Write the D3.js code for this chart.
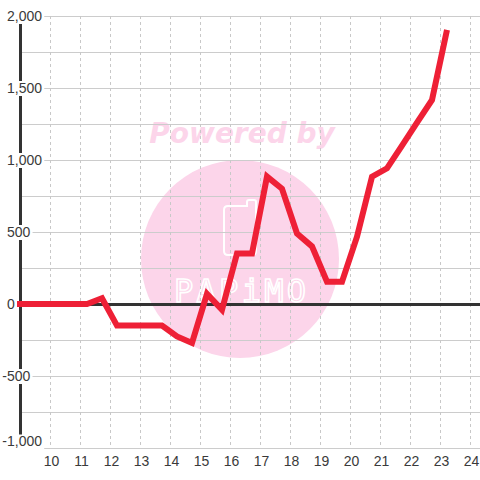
<!DOCTYPE html>
<html>
<head>
<meta charset="utf-8">
<script src="https://cdn.jsdelivr.net/npm/d3@7"></script>
<style>
  html, body { margin: 0; padding: 0; background: #fff; }
  svg { display: block; }
</style>
</head>
<body>
<svg id="chart" width="480" height="480"></svg>
<script>
// series
const weeks = [8.7, 9.2, 9.7, 10.2, 10.7, 11.2, 11.7, 12.2, 12.7, 13.2, 13.7, 14.2, 14.7,
               15.2, 15.7, 16.2, 16.7, 17.2, 17.7, 18.2, 18.7, 19.2, 19.7, 20.2, 20.7,
               21.2, 21.7, 22.2, 22.7, 23.2]
const values = [0, 0, 0, 0, 0, 0, 40, -150, -150, -150, -150, -225, -270,
                70, -40, 350, 350, 885, 800, 490, 400, 155, 155, 467, 884,
                942, 1100, 1260, 1417, 1903]
const xTicks = [10, 11, 12, 13, 14, 15, 16, 17, 18, 19, 20, 21, 22, 23, 24]
const yTicks = [-1000, -500, 0, 500, 1000, 1500, 2000]
const yGrid = d3.range(-1000, 2001, 250)

const svg = d3.select('#chart')
const width = +svg.attr('width')

const x = d3.scaleLinear().domain([10, 24]).range([51, 471])
const y = d3.scaleLinear().domain([-1000, 2000]).range([448, 16])

const fmt = d3.format(',')
const font = '"Liberation Sans", Arial, sans-serif'

// watermark sits under the grid
const wm = svg.append('g')
wm.append('circle')
    .attr('cx', 240).attr('cy', 259).attr('r', 99)
    .attr('fill', '#fcd5ea')
wm.append('text')
    .attr('x', 242).attr('y', 143)
    .attr('text-anchor', 'middle')
    .style('font-family', '"DejaVu Sans", sans-serif')
    .style('font-weight', 'bold')
    .style('font-style', 'italic')
    .style('font-size', '28px')
    .attr('fill', '#fcd5ea')
    .text('Powered by')
wm.append('path')
    .attr('d', 'M228,206 H247 V202 Q247,200 249,200 H254 Q256,200 256,202 V251 Q256,255 252,255 H228 Q224,255 224,251 V210 Q224,206 228,206 Z')
    .attr('fill', 'none')
    .attr('stroke', '#fff')
    .attr('stroke-width', 2)
wm.append('text')
    .attr('x', 174).attr('y', 302)
    .attr('textLength', 132)
    .attr('lengthAdjust', 'spacing')
    .style('font-family', '"DejaVu Sans Mono", monospace')
    .style('font-size', '32px')
    .attr('fill', 'none')
    .attr('stroke', '#fff')
    .attr('stroke-width', 1.6)
    .text('PAPiMO')

// grid
svg.append('g')
    .selectAll('line')
    .data(yGrid)
    .join('line')
    .attr('x1', 20).attr('x2', width)
    .attr('y1', d => y(d) + 0.5).attr('y2', d => y(d) + 0.5)
    .attr('stroke', '#cccccc')
    .attr('stroke-width', 1)

svg.append('g')
    .selectAll('line')
    .data(xTicks)
    .join('line')
    .attr('x1', d => Math.round(x(d)) - 0.5).attr('x2', d => Math.round(x(d)) - 0.5)
    .attr('y1', y(2000)).attr('y2', y(-1000))
    .attr('stroke', '#c8c8c8')
    .attr('stroke-dasharray', '3,3')
    .attr('stroke-width', 1)

// left axis line and zero line
svg.append('line')
    .attr('x1', 20.5).attr('x2', 20.5)
    .attr('y1', y(2000)).attr('y2', y(-1000))
    .attr('stroke', '#333')
    .attr('stroke-width', 3)

svg.append('line')
    .attr('x1', 20).attr('x2', width)
    .attr('y1', y(0) + 0.5).attr('y2', y(0) + 0.5)
    .attr('stroke', '#333')
    .attr('stroke-width', 3)

// y labels with white backing that cuts the axis and grid;
// the bottom one is nudged up to stay clear of the x labels
const yl = svg.append('g')
    .selectAll('g')
    .data(yTicks)
    .join('g')
    .attr('transform', d => `translate(0,${y(d) - (d === -1000 ? 6.5 : 0)})`)

yl.append('text')
    .attr('x', d => d < 0 ? 2.3 : 7)
    .attr('dy', '0.35em')
    .style('font-family', font)
    .style('font-size', '14px')
    .attr('fill', '#3a3a3a')
    .text(d => fmt(d).replace('−', '-'))

yl.each(function() {
    const g = d3.select(this)
    const bb = g.select('text').node().getBBox()
    g.insert('rect', 'text')
        .attr('x', 0).attr('y', -7)
        .attr('width', bb.x + bb.width + 2)
        .attr('height', d => d === -1000 ? 22 : 15)
        .attr('fill', '#fff')
})

// x axis labels
const xAxis = svg.append('g')
    .attr('transform', `translate(0,${y(-1000)})`)
    .call(d3.axisBottom(x).tickValues(xTicks).tickSize(0).tickPadding(8).tickFormat(d3.format('d')))
xAxis.select('.domain').remove()
xAxis.selectAll('text')
    .style('font-family', font)
    .style('font-size', '14px')
    .attr('fill', '#3a3a3a')

// the series
svg.append('clipPath').attr('id', 'plot')
    .append('rect').attr('x', 17).attr('y', 0).attr('width', 463).attr('height', 480)

const line = d3.line()
    .x((d, i) => x(weeks[i]))
    .y(d => y(d))

svg.append('path')
    .datum(values)
    .attr('clip-path', 'url(#plot)')
    .attr('d', line)
    .attr('fill', 'none')
    .attr('stroke', '#ee2036')
    .attr('stroke-width', 6)
    .attr('stroke-linejoin', 'miter')
</script>
</body>
</html>
